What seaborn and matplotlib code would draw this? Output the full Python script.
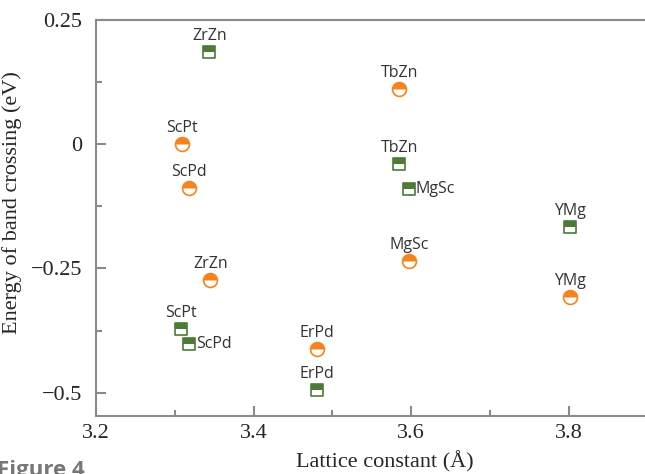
import matplotlib
matplotlib.use("Agg")
import matplotlib.pyplot as plt
from matplotlib.markers import MarkerStyle
from matplotlib.ticker import MultipleLocator, FuncFormatter
import seaborn as sns
import pandas as pd

# Band-crossing energies vs. lattice constant
circle_names = ["ScPt", "ScPd", "ZrZn", "ErPd", "TbZn", "MgSc", "YMg"]
circle_lattice = [3.309, 3.318, 3.345, 3.481, 3.585, 3.597, 3.802]
circle_energy = [0.0, -0.088, -0.274, -0.412, 0.111, -0.235, -0.308]

square_names = ["ZrZn", "TbZn", "MgSc", "YMg", "ScPt", "ScPd", "ErPd"]
square_lattice = [3.344, 3.585, 3.597, 3.802, 3.308, 3.318, 3.481]
square_energy = [0.185, -0.040, -0.090, -0.167, -0.372, -0.402, -0.495]

x_ticks = [3.2, 3.4, 3.6, 3.8]
y_ticks = [0.25, 0.0, -0.25, -0.5]

ORANGE = "#f5841f"
GREEN = "#4a7c35"
GRAY = "#8a8a8a"

circles = pd.DataFrame({"name": circle_names, "a": circle_lattice, "E": circle_energy})
squares = pd.DataFrame({"name": square_names, "a": square_lattice, "E": square_energy})

sns.set_style("white")
fig = plt.figure(figsize=(6.45, 4.74), dpi=100)
ax = fig.add_axes([96 / 645, 1 - 416 / 474, 1 - 96 / 645, (416 - 20) / 474])

ms_c = 100
ms_s = 85
# outline + white lower half, then filled upper half
sns.scatterplot(data=circles, x="a", y="E", ax=ax, marker="o", s=ms_c,
                color="white", edgecolor=ORANGE, linewidth=1.2, zorder=3)
sns.scatterplot(data=circles, x="a", y="E", ax=ax,
                marker=MarkerStyle("o", fillstyle="top"), s=ms_c,
                color=ORANGE, linewidth=0, zorder=4)
sns.scatterplot(data=squares, x="a", y="E", ax=ax, marker="s", s=ms_s,
                color="white", edgecolor=GREEN, linewidth=1.2, zorder=3)
sns.scatterplot(data=squares, x="a", y="E", ax=ax,
                marker=MarkerStyle("s", fillstyle="top"), s=ms_s,
                color=GREEN, linewidth=0, zorder=4)

label_font = dict(family=["Open Sans", "DejaVu Sans"], fontsize=11.5, color="#333333")
right_side = {"MgSc", "ScPd"}
for df, side_labels in ((circles, set()), (squares, right_side)):
    for _, r in df.iterrows():
        if r["name"] in side_labels:
            ax.annotate(r["name"], (r["a"], r["E"]), xytext=(5, 0),
                        textcoords="offset points", ha="left", va="center", **label_font)
        else:
            ax.annotate(r["name"], (r["a"], r["E"]), xytext=(0, 6),
                        textcoords="offset points", ha="center", va="bottom", **label_font)

ax.set_xlim(3.2, 3.897)
ax.set_ylim(-0.547, 0.25)
ax.set_xticks(x_ticks)
ax.set_yticks(y_ticks)
ax.xaxis.set_minor_locator(MultipleLocator(0.1))
ax.yaxis.set_minor_locator(MultipleLocator(0.125))


def fmt_y(v, _):
    if abs(v) < 1e-9:
        return "0"
    s = f"{v:g}"
    return s.replace("-", "\u2212")


ax.yaxis.set_major_formatter(FuncFormatter(fmt_y))
ax.xaxis.set_major_formatter(FuncFormatter(lambda v, _: f"{v:.1f}"))

serif = ["Liberation Serif", "DejaVu Serif"]
for lab in ax.get_xticklabels() + ax.get_yticklabels():
    lab.set_family(serif)
    lab.set_fontsize(16)

ax.tick_params(which="both", direction="in", color=GRAY, width=1.5,
               top=False, right=False, left=True, bottom=True)
ax.tick_params(which="major", length=7)
ax.tick_params(which="minor", length=4)
ax.tick_params(axis="y", which="major", pad=10)
ax.tick_params(axis="x", which="major", pad=6)

for side in ("left", "bottom", "top"):
    ax.spines[side].set_color(GRAY)
    ax.spines[side].set_linewidth(1.5)
ax.spines["right"].set_visible(False)

ax.set_xlabel("Lattice constant (Å)", family=serif, fontsize=16)
ax.set_ylabel("Energy of band crossing (eV)", family=serif, fontsize=16)
ax.xaxis.set_label_coords((385 - 96) / (645 - 96), -(451 - 416) / 396)
ax.yaxis.set_label_coords(-(96 - 22) / 549, (416 - 203) / 396)

fig.text(-0.004, 1 - 460 / 474, "Figure 4", ha="left", va="top", fontsize=16,
         fontweight="bold", color="#777777", family=["Open Sans", "DejaVu Sans"])

fig.savefig("out.png", dpi=100)
